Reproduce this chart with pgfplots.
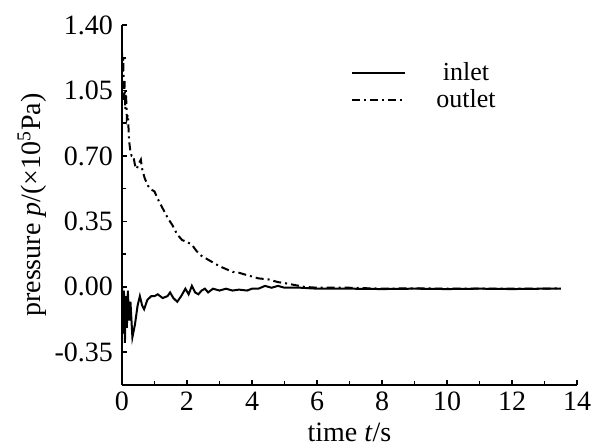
\documentclass[border=0pt]{standalone}
\usepackage{fontspec}
\setmainfont{Liberation Serif}
\usepackage{pgfplots}
\pgfplotsset{compat=1.18}
\begin{document}
\begin{tikzpicture}
\begin{axis}[
  scale only axis,
  width=227.5pt, height=180pt,
  xmin=0, xmax=14, ymin=-0.525, ymax=1.40,
  axis x line=bottom, axis y line=left,
  axis line style={-, line width=0.8pt},
  tick align=inside,
  major tick length=2.5pt, minor tick length=2pt,
  tick style={line width=0.8pt, black},
  xtick={0,2,...,14}, minor x tick num=1,
  ytick={-0.35,0,0.35,0.70,1.05,1.40}, minor y tick num=1,
  yticklabel style={xshift=-1pt, /pgf/number format/.cd, fixed, fixed zerofill, precision=2},
  /pgf/number format/assume math mode=true,
  ticklabel style={font=\fontsize{14}{16}\selectfont},
  xticklabel style={yshift=0pt},
  xlabel={time \textit{t}/s},
  ylabel={pressure \textit{p}/(×10\textsuperscript{5}Pa)},
  label style={font=\fontsize{14}{16}\selectfont},
  xlabel style={yshift=1pt},
  ylabel style={yshift=-3pt},
  legend style={draw=none, fill=none, at={(0.49,0.92)}, anchor=north west,
    font=\fontsize{13}{15}\selectfont, row sep=-1pt,
    /tikz/every odd column/.append style={column sep=13pt}},
  legend cell align=center,
  legend image code/.code={\draw[#1] (0pt,0pt) -- (26.5pt,0pt);},
]
\addplot[black, line width=1pt] coordinates {
(0,0) (0.03,-0.25) (0.06,-0.02) (0.09,-0.30) (0.12,-0.05) (0.15,-0.22)
(0.18,-0.02) (0.22,-0.18) (0.26,-0.08) (0.32,-0.27) (0.40,-0.20) (0.48,-0.10)
(0.55,-0.05) (0.62,-0.10) (0.68,-0.12) (0.78,-0.07) (0.90,-0.05) (1.00,-0.05)
(1.10,-0.04) (1.25,-0.06) (1.40,-0.05) (1.48,-0.03) (1.58,-0.06) (1.70,-0.08)
(1.82,-0.05) (1.95,-0.01) (2.05,-0.04) (2.15,0.005) (2.25,-0.03) (2.35,-0.04)
(2.45,-0.02) (2.55,-0.01) (2.65,-0.03) (2.80,-0.01) (3.0,-0.02) (3.2,-0.01)
(3.4,-0.02) (3.6,-0.015) (3.85,-0.02) (4.0,-0.01) (4.2,-0.01) (4.4,0.005)
(4.6,-0.005) (4.8,0.005) (5.0,-0.005) (5.5,-0.005) (6,-0.01) (7,-0.01)
(8,-0.012) (9,-0.01) (10,-0.012) (11,-0.01) (12,-0.012) (13,-0.01) (13.5,-0.01)
};
\addlegendentry{inlet}
\addplot[black, line width=1pt, dash pattern=on 4pt off 2pt on 1pt off 2pt] coordinates {
(0,1.25) (0.02,1.15) (0.04,1.22) (0.06,1.00) (0.08,1.10) (0.10,0.95)
(0.12,1.05) (0.15,0.90) (0.18,0.92) (0.22,0.78) (0.26,0.72) (0.30,0.70)
(0.35,0.70) (0.40,0.65) (0.45,0.63) (0.52,0.66) (0.58,0.68) (0.62,0.63)
(0.70,0.58) (0.80,0.54) (0.90,0.52) (1.00,0.51) (1.10,0.47) (1.25,0.42)
(1.40,0.37) (1.55,0.33) (1.70,0.28) (1.85,0.25) (2.00,0.24) (2.15,0.225)
(2.30,0.19) (2.45,0.165) (2.60,0.15) (2.80,0.13) (3.00,0.11) (3.20,0.095)
(3.40,0.08) (3.60,0.075) (3.80,0.065) (4.00,0.055) (4.20,0.045) (4.50,0.04)
(4.80,0.025) (5.00,0.02) (5.30,0.01) (5.60,0.0) (6.0,-0.005) (7,-0.005)
(8,-0.01) (9,-0.008) (10,-0.01) (11,-0.01) (12,-0.01) (13,-0.01) (13.5,-0.008)
};
\addlegendentry{outlet}
\end{axis}
\pgfresetboundingbox
\useasboundingbox (-61pt,-31.5pt) rectangle (236.5pt,192.5pt);
\end{tikzpicture}
\end{document}
